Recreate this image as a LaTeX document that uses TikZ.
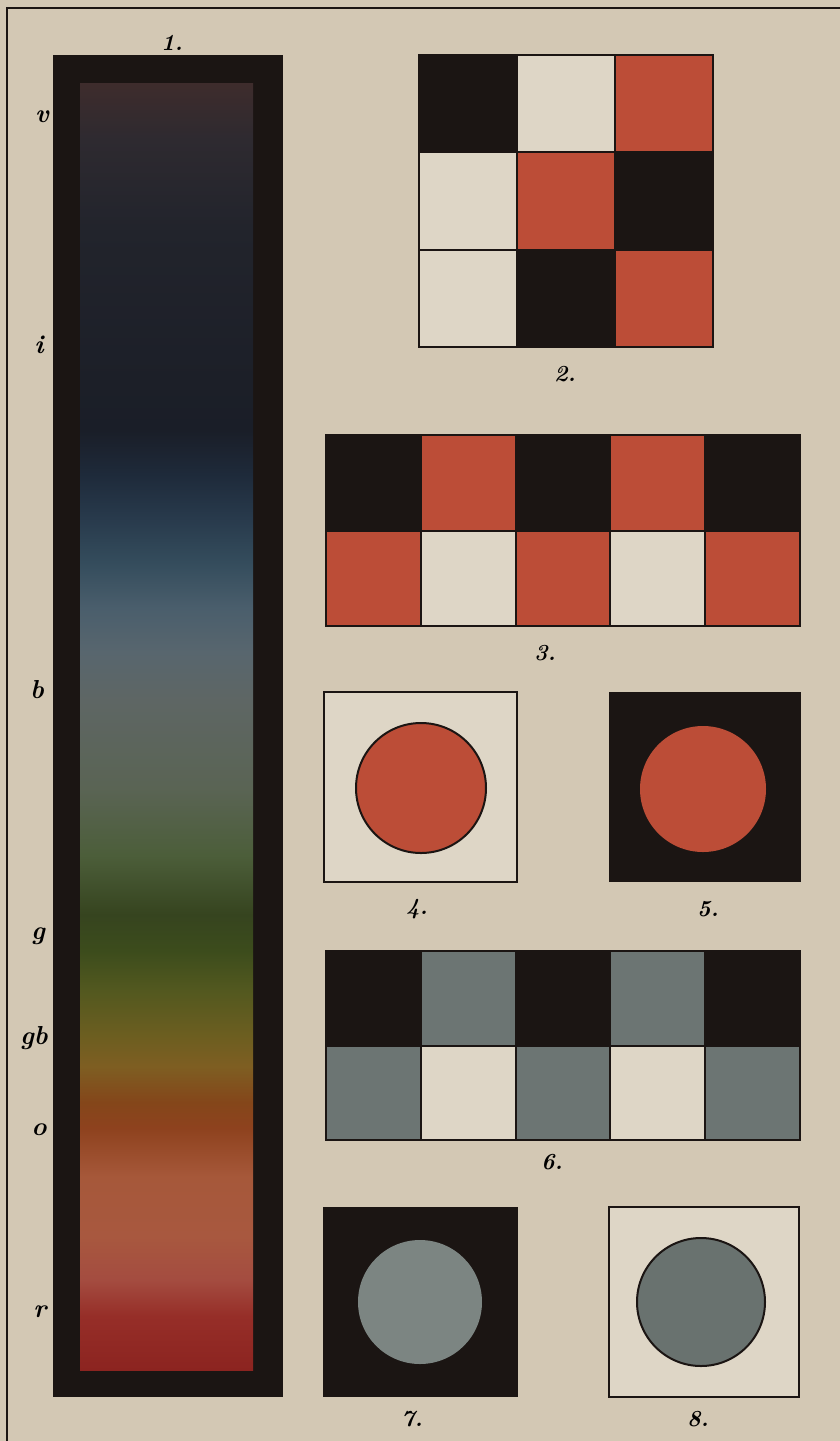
\documentclass[tikz,border=0pt]{standalone}
\definecolor{paper}{HTML}{D3C8B4}
\definecolor{ink}{HTML}{1B1513}
\definecolor{lightcell}{HTML}{DED6C6}
\definecolor{redcell}{HTML}{BC4D37}
\definecolor{greycell}{HTML}{6C7573}
\definecolor{greylight}{HTML}{7C8582}
\definecolor{greydark}{HTML}{69726F}
% spectrum colours, red end first
\definecolor{spa}{HTML}{8C2420}
\definecolor{spb}{HTML}{962E28}
\definecolor{spc}{HTML}{A44C40}
\definecolor{spd}{HTML}{A8583F}
\definecolor{spe}{HTML}{A6583A}
\definecolor{spf}{HTML}{8E421E}
\definecolor{spg}{HTML}{84461A}
\definecolor{sph}{HTML}{7E5E22}
\definecolor{spi}{HTML}{6C5E20}
\definecolor{spj}{HTML}{52581F}
\definecolor{spk}{HTML}{3C4C1C}
\definecolor{spl}{HTML}{36441F}
\definecolor{spm}{HTML}{4C5E3A}
\definecolor{spn}{HTML}{5A6454}
\definecolor{spo}{HTML}{5E6664}
\definecolor{spp}{HTML}{58666E}
\definecolor{spq}{HTML}{4A5E6C}
\definecolor{spr}{HTML}{344C5C}
\definecolor{sps}{HTML}{283A4C}
\definecolor{spt}{HTML}{1E2A3A}
\definecolor{spu}{HTML}{1A1E28}
\definecolor{spv}{HTML}{1C1F28}
\definecolor{spw}{HTML}{22242C}
\definecolor{spx}{HTML}{2E2A30}
\definecolor{spy}{HTML}{3E2C2C}
\pgfdeclareverticalshading{spectrum}{100bp}{color(0bp)=(spa); color(25bp)=(spa);
  color(27.1bp)=(spb); color(28.5bp)=(spc); color(30.2bp)=(spd); color(32.5bp)=(spe);
  color(34.4bp)=(spf); color(35.4bp)=(spg); color(36.8bp)=(sph); color(38bp)=(spi);
  color(39.8bp)=(spj); color(41.3bp)=(spk); color(42.7bp)=(spl); color(45bp)=(spm);
  color(47.6bp)=(spn); color(51bp)=(spo); color(52.9bp)=(spp); color(54.6bp)=(spq);
  color(56.4bp)=(spr); color(58.1bp)=(sps); color(59.8bp)=(spt); color(61.5bp)=(spu);
  color(63.3bp)=(spv); color(69.4bp)=(spw); color(72.8bp)=(spx); color(75bp)=(spy);
  color(100bp)=(spy)}
\begin{document}
\begin{tikzpicture}[x=0.5pt,y=-0.5pt,
  blksq/.style={fill=ink,draw=ink,line width=0.7pt},
  redsq/.style={fill=redcell,draw=ink,line width=0.7pt},
  litsq/.style={fill=lightcell,draw=ink,line width=0.7pt},
  grysq/.style={fill=greycell,draw=ink,line width=0.7pt},
  numlab/.style={font=\fontsize{11.5}{13}\selectfont\bfseries\itshape,inner sep=0pt},
  barlab/.style={font=\fontsize{13}{15}\selectfont\bfseries\itshape,inner sep=0pt}]
\useasboundingbox (0,0) rectangle (840,1441);
\fill[paper] (0,0) rectangle (840,1441);
\draw[ink,line width=1pt] (7,1441) -- (7,8) -- (840,8);

% 1.
\fill[ink] (53,55) rectangle (283,1397);
\fill[shading=spectrum] (80,83) rectangle (253,1370);
\node[numlab] (n1) at (172,43) {1.};
\node[barlab] (lv) at (42,117) {v};
\node[barlab] (li) at (39,345) {i};
\node[barlab] (lb) at (37,690) {b};
\node[barlab] (lg) at (38,936) {g};
\node[barlab] (lgb) at (34,1038) {gb};
\node[barlab] (lo) at (39,1130) {o};
\node[barlab] (lr) at (40,1312) {r};

% 2.
\draw[blksq] (419,55) rectangle (517,152);
\draw[litsq] (517,55) rectangle (615,152);
\draw[redsq] (615,55) rectangle (713,152);
\draw[litsq] (419,152) rectangle (517,250);
\draw[redsq] (517,152) rectangle (615,250);
\draw[blksq] (615,152) rectangle (713,250);
\draw[litsq] (419,250) rectangle (517,347);
\draw[blksq] (517,250) rectangle (615,347);
\draw[redsq] (615,250) rectangle (713,347);
\node[numlab] (n2) at (565,374) {2.};

% 3.
\draw[blksq] (326,435) rectangle (421,531);
\draw[redsq] (421,435) rectangle (516,531);
\draw[blksq] (516,435) rectangle (610,531);
\draw[redsq] (610,435) rectangle (705,531);
\draw[blksq] (705,435) rectangle (800,531);
\draw[redsq] (326,531) rectangle (421,626);
\draw[litsq] (421,531) rectangle (516,626);
\draw[redsq] (516,531) rectangle (610,626);
\draw[litsq] (610,531) rectangle (705,626);
\draw[redsq] (705,531) rectangle (800,626);
\node[numlab] (n3) at (545,653) {3.};

% 4. and 5.
\draw[litsq] (324,692) rectangle (517,882);
\draw[fill=redcell,draw=ink,line width=1pt] (421,788) circle[radius=65];
\node[numlab] (n4) at (417,909) {4.};
\fill[ink] (609,692) rectangle (801,882);
\fill[redcell] (703,789) circle[radius=63];
\node[numlab] (n5) at (708,909) {5.};

% 6.
\draw[blksq] (326,951) rectangle (421,1046);
\draw[grysq] (421,951) rectangle (516,1046);
\draw[blksq] (516,951) rectangle (610,1046);
\draw[grysq] (610,951) rectangle (705,1046);
\draw[blksq] (705,951) rectangle (800,1046);
\draw[grysq] (326,1046) rectangle (421,1140);
\draw[litsq] (421,1046) rectangle (516,1140);
\draw[grysq] (516,1046) rectangle (610,1140);
\draw[litsq] (610,1046) rectangle (705,1140);
\draw[grysq] (705,1046) rectangle (800,1140);
\node[numlab] (n6) at (552,1162) {6.};

% 7. and 8.
\fill[ink] (323,1207) rectangle (518,1397);
\fill[greylight] (420,1302) circle[radius=62];
\node[numlab] (n7) at (412,1419) {7.};
\draw[litsq] (609,1207) rectangle (799,1397);
\draw[fill=greydark,draw=ink,line width=1pt] (701,1302) circle[radius=64];
\node[numlab] (n8) at (698,1419) {8.};
\end{tikzpicture}
\end{document}
